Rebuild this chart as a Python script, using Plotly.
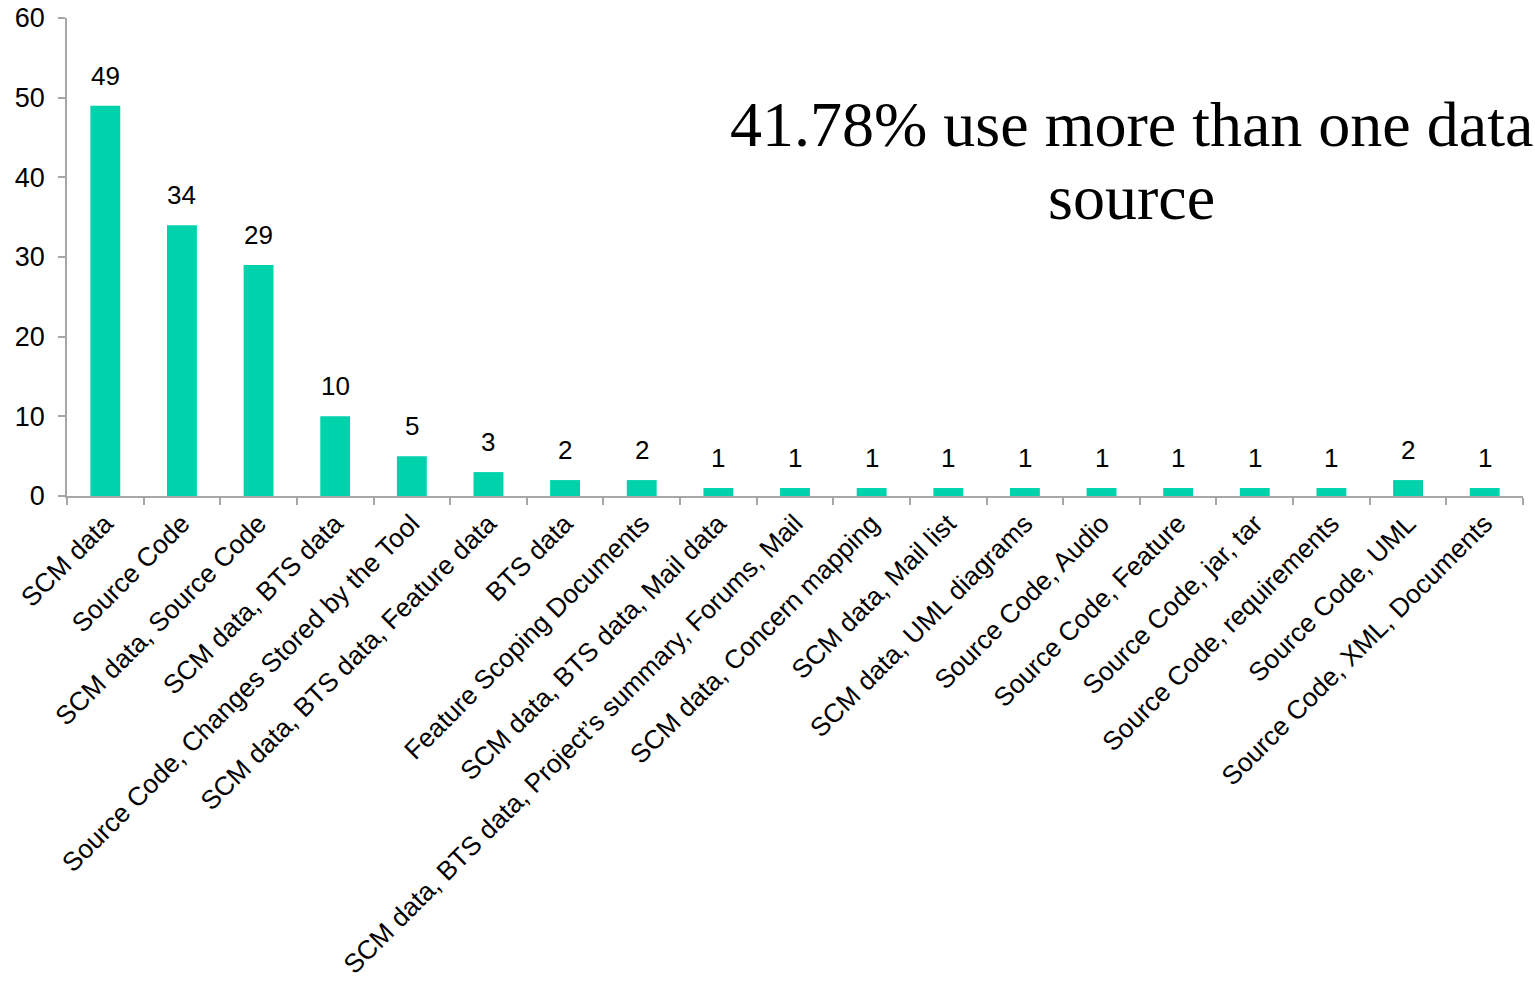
import plotly.graph_objects as go

categories = [
    "SCM data",
    "Source Code",
    "SCM data, Source Code",
    "SCM data, BTS data",
    "Source Code, Changes Stored by the Tool",
    "SCM data, BTS data, Feature data",
    "BTS data",
    "Feature Scoping Documents",
    "SCM data, BTS data, Mail data",
    "SCM data, BTS data, Project\u2019s summary, Forums, Mail",
    "SCM data, Concern mapping",
    "SCM data, Mail list",
    "SCM data, UML diagrams",
    "Source Code, Audio",
    "Source Code, Feature",
    "Source Code, jar, tar",
    "Source Code, requirements",
    "Source Code, UML",
    "Source Code, XML, Documents",
]
counts = [49, 34, 29, 10, 5, 3, 2, 2, 1, 1, 1, 1, 1, 1, 1, 1, 1, 2, 1]

note_lines = ["41.78% use more than one data", "source"]

BAR_COLOR = "#00D3AB"
AXIS_COLOR = "#A6A6A6"
SANS = "Liberation Sans, Arial, sans-serif"
SERIF = "Liberation Serif, Times New Roman, serif"

fig = go.Figure(
    go.Bar(
        x=categories,
        y=counts,
        marker=dict(color=BAR_COLOR, line=dict(width=0)),
        width=0.39,
        hoverinfo="x+y",
    )
)

# value labels above each bar
for cat, val in zip(categories, counts):
    fig.add_annotation(
        x=cat, y=val, text=str(val), showarrow=False,
        xanchor="center", yanchor="bottom", yshift=13,
        font=dict(family=SANS, size=26, color="black"),
    )

# headline note, one annotation per line
for text, ypos in zip(note_lines, [0.778, 0.625]):
    fig.add_annotation(
        xref="paper", yref="paper", x=0.7308, y=ypos,
        text=text, showarrow=False, xanchor="center", yanchor="middle",
        font=dict(family=SERIF, size=64, color="black"),
    )

fig.update_layout(
    width=1535, height=986,
    margin=dict(l=67, r=12, t=18, b=490, autoexpand=False),
    paper_bgcolor="white", plot_bgcolor="white",
    showlegend=False,
    bargap=0.61,
)
fig.update_xaxes(
    type="category",
    tickangle=-45,
    tickson="boundaries",
    ticks="outside", ticklen=7, tickcolor=AXIS_COLOR, tickwidth=1.5,
    showline=True, linecolor=AXIS_COLOR, linewidth=1.5,
    showgrid=False, automargin=False,
    tickfont=dict(family=SANS, size=26.3, color="black"),
)
fig.update_yaxes(
    range=[0, 60], dtick=10, tick0=0,
    ticks="outside", ticklen=7, tickcolor=AXIS_COLOR, tickwidth=1.5,
    showline=True, linecolor=AXIS_COLOR, linewidth=1.5,
    showgrid=False, zeroline=False, automargin=False,
    ticklabelstandoff=8,
    tickfont=dict(family=SANS, size=27, color="black"),
)

fig.write_html("out.html")
